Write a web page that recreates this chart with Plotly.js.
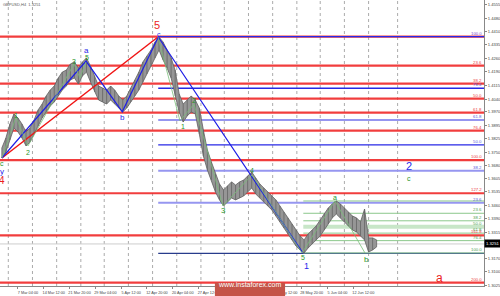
<!DOCTYPE html>
<html><head><meta charset="utf-8">
<script src="https://cdn.plot.ly/plotly-3.0.1.min.js"></script>
<style>html,body{margin:0;padding:0;background:#fff}#chart{width:500px;height:296px}</style>
</head><body><div id="chart"></div>
<script>
// ---- price data (H4 bars, grouped every 5 bars) ----
const barStart = -20, barStep = 5;
const highs = [1.3774,1.3828,1.3904,1.3959,1.3937,1.3904,1.3861,1.3883,1.3926,1.3981,
1.4013,1.4057,1.4089,1.4111,1.4155,1.4187,1.4198,1.4231,1.4242,1.4209,
1.4242,1.4264,1.4220,1.4166,1.4111,1.4100,1.4089,1.4111,1.4089,1.4057,
1.4035,1.4057,1.4100,1.4144,1.4187,1.4242,1.4275,1.4307,1.4351,1.4378,
1.4351,1.4307,1.4264,1.4198,1.4068,1.4013,1.4035,1.4057,1.4035,1.3991,
1.3872,1.3763,1.3697,1.3632,1.3578,1.3545,1.3567,1.3589,1.3572,1.3589,
1.3599,1.3621,1.3643,1.3610,1.3578,1.3556,1.3534,1.3512,1.3491,1.3458,
1.3425,1.3393,1.3360,1.3327,1.3295,1.3273,1.3305,1.3327,1.3349,1.3382,
1.3414,1.3447,1.3469,1.3485,1.3469,1.3447,1.3425,1.3403,1.3393,1.3371,
1.3441,1.3284,1.3284,1.3273];
const lows = [1.3719,1.3752,1.3817,1.3883,1.3861,1.3828,1.3785,1.3806,1.3850,1.3893,
1.3937,1.3970,1.4002,1.4024,1.4057,1.4089,1.4111,1.4144,1.4155,1.4122,
1.4166,1.4187,1.4133,1.4079,1.4035,1.4024,1.4013,1.4035,1.4013,1.3991,
1.3970,1.3991,1.4024,1.4057,1.4089,1.4133,1.4177,1.4220,1.4264,1.4307,
1.4253,1.4209,1.4155,1.4057,1.3970,1.3915,1.3948,1.3970,1.3959,1.3850,
1.3730,1.3654,1.3599,1.3534,1.3491,1.3458,1.3480,1.3501,1.3491,1.3501,
1.3512,1.3534,1.3556,1.3523,1.3501,1.3480,1.3458,1.3436,1.3403,1.3371,
1.3338,1.3305,1.3273,1.3240,1.3218,1.3202,1.3229,1.3251,1.3273,1.3295,
1.3327,1.3360,1.3393,1.3414,1.3393,1.3371,1.3349,1.3327,1.3316,1.3295,
1.3273,1.3207,1.3218,1.3235];
const currentPrice = 1.3251;

// ---- axes ----
const xRange = [-22.3, 578.2];
const yRange = [1.3022, 1.45795];
const xLabelBars = [-32,0,32,64,96,128,160,192,224,256,288,320,352,384,416];
const xLabels = ["27 Feb 20:00","7 Mar 04:00","14 Mar 12:00","21 Mar 20:00","29 Mar 04:00","5 Apr 12:00","12 Apr 20:00","20 Apr 04:00","27 Apr 12:00","4 May 20:00","14 May 04:00","21 May 12:00","28 May 20:00","5 Jun 04:00","12 Jun 12:00"];
const gridBars = [-12,18,48,78,107,137,167,197,227,256,286,316,346,375,405,435,471];
const yTicks = [1.4555,1.4480,1.4410,1.4335,1.4260,1.4190,1.4115,1.4040,1.3970,1.3895,1.3825,1.3750,1.3680,1.3605,1.3535,1.3460,1.3390,1.3315,1.3170,1.3100,1.3025];

// ---- fibonacci levels ----
const redLevels = [1.4380,1.4222,1.4124,1.4042,1.3966,1.3868,1.3708,1.3527,1.3298,1.3040];
const redLabels = ["","23.6","38.2","50.0","61.8","76.4","100.0","127.2","161.8","200.0"];
const blueStartBar = 174;
const blueLevels = [1.4380,1.4099,1.3926,1.3790,1.3650,1.3476,1.3200];
const blueLabels = ["100.0","76.4","61.8","50.0","38.2","23.6",""];
const greenStartBar = 354;
const greenLevels = [1.3485,1.3418,1.3377,1.3344,1.3310,1.3269,1.3202];
const greenLabels = ["","23.6","38.2","50.0","61.8","76.4","100.0"];

// ---- wave lines ----
const redWaveBars = [-19.9,173.7], redWavePrices = [1.3719,1.4378];
const blueWaveBars = [-19.9,84.4,129.4,174.1,353.2];
const blueWavePrices = [1.3719,1.4247,1.3971,1.4378,1.3204];
const greenWave1Bars = [-19.9,-2.5,12.4,69.5,76.9,84.4];
const greenWave1Prices = [1.3719,1.3942,1.3785,1.4231,1.4155,1.4242];
const greenWave2Bars = [173.7,201,218.4,254.3,290.3,352.4,393.3,430.5];
const greenWave2Prices = [1.4378,1.3921,1.4013,1.3458,1.3627,1.3202,1.3485,1.3202];

// ---- wave labels ----
const waveText  = ["5","c","a","5","3","b","1","2","c","y","4","1","2","3","4","5","1","a","b","2","c","a"];
const waveBar   = [172.5,175,85.2,85.2,69.5,129.4,-2.9,12.8,-19.9,-19.9,-19.9,204.3,218.7,254.7,290.7,353.2,358.5,393.3,432.6,485.1,485.1,522.7];
const wavePrice = [1.4446,1.4394,1.4306,1.4265,1.4244,1.3942,1.3953,1.3748,1.3687,1.3643,1.3597,1.3890,1.4030,1.3431,1.3650,1.3178,1.3130,1.3503,1.3168,1.3677,1.3610,1.3067];
const waveKind  = ["R","B","B","G","G","B","G","G","G","B","R","G","G","G","G","G","B","G","G","B","G","R"];
const waveSize  = [11,7,8,7,7,8,7,7,7,8,10,7,7,8,7,7,9,7,8,11,7,12];

const kindColor = {R:"rgb(235,30,30)", B:"rgb(40,40,235)", G:"rgb(40,150,40)"};

const barX = highs.map((h, i) => barStart + barStep * i);
// vertical high-low strokes
const sx = [], sy = [];
highs.forEach((h, i) => { sx.push(barX[i], barX[i], null); sy.push(lows[i], h, null); });

const traces = [
  {x: barX, y: lows, type: "scatter", mode: "lines", line: {color: "rgb(95,95,95)", width: 0.8}, hoverinfo: "skip"},
  {x: barX, y: highs, type: "scatter", mode: "lines", fill: "tonexty", fillcolor: "rgb(150,150,150)",
   line: {color: "rgb(95,95,95)", width: 0.8}, hoverinfo: "skip"},
  {x: sx, y: sy, type: "scatter", mode: "lines", line: {color: "rgb(100,100,100)", width: 0.8}, connectgaps: false, hoverinfo: "skip"},
  {x: redWaveBars, y: redWavePrices, type: "scatter", mode: "lines", line: {color: "rgb(240,20,20)", width: 1.5}},
  {x: blueWaveBars, y: blueWavePrices, type: "scatter", mode: "lines", line: {color: "rgb(30,30,230)", width: 1.2}},
  {x: greenWave1Bars, y: greenWave1Prices, type: "scatter", mode: "lines", line: {color: "rgb(120,190,120)", width: 0.8}},
  {x: greenWave2Bars, y: greenWave2Prices, type: "scatter", mode: "lines", line: {color: "rgb(120,190,120)", width: 0.8}}
];

const shapes = [];
const annotations = [];
gridBars.forEach(b => shapes.push({type: "line", xref: "x", yref: "paper", x0: b, x1: b, y0: 0, y1: 1, layer: "below",
  line: {color: "rgb(150,150,150)", width: 0.8, dash: "dot"}}));
shapes.push({type: "line", xref: "paper", x0: 0, x1: 1, y0: currentPrice, y1: currentPrice, layer: "below",
  line: {color: "rgb(205,205,205)", width: 1}});
const fibLabel = (v, t, c) => { if (t) annotations.push({xref: "paper", x: 1, y: v, xanchor: "right", yanchor: "bottom", yshift: -1,
  text: t, showarrow: false, font: {size: 4.3, color: c, family: "Arial"}}); };
redLevels.forEach((v, i) => {
  shapes.push({type: "line", xref: "paper", x0: 0, x1: 1, y0: v, y1: v, layer: "below", line: {color: "rgba(240,40,40,0.9)", width: 2.2}});
  fibLabel(v, redLabels[i], "rgb(235,60,60)");
});
blueLevels.forEach((v, i) => {
  const light = (i === 2 || i === 4 || i === 5);
  shapes.push({type: "line", x0: blueStartBar, x1: xRange[1], y0: v, y1: v, layer: "below",
    line: {color: light ? "rgb(150,150,240)" : (i === 6 ? "rgb(40,60,140)" : "rgb(40,40,230)"), width: light ? 2 : 1.3}});
  fibLabel(v, blueLabels[i], i === 0 ? "rgb(120,60,200)" : "rgb(90,90,220)");
});
greenLevels.forEach((v, i) => {
  shapes.push({type: "line", x0: greenStartBar, x1: xRange[1], y0: v, y1: v, layer: "below",
    line: {color: i === 3 ? "rgb(200,230,200)" : "rgb(140,200,140)", width: i === 3 ? 4 : 1}});
  fibLabel(v, greenLabels[i], "rgb(80,160,80)");
});

waveText.forEach((t, i) => annotations.push({x: waveBar[i], y: wavePrice[i], text: t, showarrow: false,
  font: {size: waveSize[i], color: kindColor[waveKind[i]], family: "Arial"}}));

// current price box
annotations.push({xref: "paper", x: 1, xanchor: "left", y: currentPrice, text: currentPrice.toFixed(4), showarrow: false,
  bgcolor: "#000", font: {size: 4.2, color: "#fff", family: "Arial"}, borderpad: 1});
// header
annotations.push({xref: "paper", yref: "paper", x: 0.002, y: 1, xanchor: "left", yanchor: "top", text: "GBPUSD,H4  1.3251", showarrow: false,
  font: {size: 4, color: "rgb(90,90,90)", family: "Arial"}});
// watermark
shapes.push({type: "rect", xref: "paper", yref: "paper", x0: 0.444, x1: 0.589, y0: 0.011, y1: -0.04, fillcolor: "rgb(196,84,72)", line: {width: 0}, layer: "above"});
annotations.push({xref: "paper", yref: "paper", x: 0.5165, y: -0.014, text: "www.instaforex.com", showarrow: false,
  font: {size: 7, color: "#fff", family: "Arial"}});

const layout = {
  width: 500, height: 296,
  margin: {l: 0, r: 16, t: 0, b: 10},
  paper_bgcolor: "#fff", plot_bgcolor: "#fff",
  showlegend: false,
  xaxis: {range: xRange, showgrid: false, zeroline: false, tickvals: xLabelBars, ticktext: xLabels, tickangle: 0,
    ticks: "outside", ticklen: 2, tickcolor: "#888", showline: true, linecolor: "#888", linewidth: 1,
    tickfont: {size: 3.8, color: "#444", family: "Arial"}, ticklabelshift: 10, ticklabelstandoff: 0},
  yaxis: {range: yRange, side: "right", showgrid: false, zeroline: false, tickvals: yTicks, tickformat: ".4f",
    ticks: "outside", ticklen: 2, tickcolor: "#888", showline: true, linecolor: "#888", linewidth: 1,
    tickfont: {size: 4.1, color: "#444", family: "Arial"}},
  shapes: shapes, annotations: annotations
};
Plotly.newPlot("chart", traces, layout, {staticPlot: true, displayModeBar: false});
</script></body></html>
